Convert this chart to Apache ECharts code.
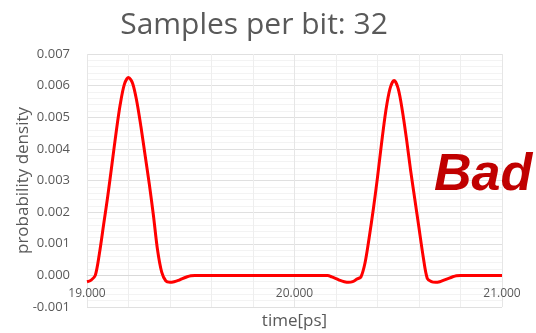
<!DOCTYPE html>
<html>
<head>
<meta charset="utf-8">
<script src="https://cdn.jsdelivr.net/npm/echarts@6/dist/echarts.min.js"></script>
<style>
	html, body { margin: 0; padding: 0; background: #fff; }
	#chart { width: 536px; height: 333px; }
</style>
</head>
<body>
<div id="chart"></div>
<script>
// Samples per bit: 32 - 概率密度曲线
var chartTitle = "Samples per bit: 32";
var xName = "time[ps]";
var yName = "probability density";
var tagText = "Bad";

// 时间点 (ps)
var times = [
	19.00, 19.02, 19.04, 19.06, 19.08, 19.10, 19.12, 19.14, 19.16, 19.18,
	19.20, 19.22, 19.24, 19.26, 19.28, 19.30, 19.32, 19.34, 19.36, 19.38,
	19.40, 19.42, 19.44, 19.46, 19.48, 19.50, 19.52,
	20.16, 20.18, 20.20, 20.22, 20.24, 20.26, 20.28, 20.30, 20.32, 20.34,
	20.36, 20.38, 20.40, 20.42, 20.44, 20.46, 20.48, 20.50, 20.52, 20.54,
	20.56, 20.58, 20.60, 20.62, 20.64, 20.66, 20.68, 20.70, 20.72, 20.74,
	20.76, 20.78, 20.80, 21.00
];
// 概率密度
var density = [
	-0.0002, -0.00015, 0.0000, 0.0007, 0.0016, 0.0025, 0.0035, 0.0045, 0.0054, 0.00604,
	0.00626, 0.00607, 0.0055, 0.0047, 0.0038, 0.0029, 0.0019, 0.0008, 0.0001, -0.00018,
	-0.00022, -0.0002, -0.00016, -0.0001, -0.00005, -0.00001, 0,
	0, -0.00005, -0.0001, -0.00016, -0.0002, -0.00022, -0.0002, -0.00012, -0.00005, 0.0004,
	0.0012, 0.0021, 0.0031, 0.0042, 0.0052, 0.0059, 0.00616, 0.0059, 0.0052, 0.0043,
	0.0033, 0.0024, 0.0015, 0.0006, -0.0001, -0.0002, -0.00022, -0.0002, -0.00015, -0.0001,
	-0.00005, -0.00001, 0, 0
];

var chart = echarts.init(document.getElementById('chart'));

var seriesData = [];
for (var i = 0; i < times.length; i++) {
	seriesData.push([times[i], density[i]]);
}

var option = {
	animation: false,
	backgroundColor: '#fff',
	title: {
		text: chartTitle,
		left: 249,
		top: 5,
		textAlign: 'center',
		textStyle: {
			fontFamily: 'Open Sans',
			fontSize: 30,
			fontWeight: 'normal',
			color: '#595959'
		}
	},
	grid: {
		left: 87,
		right: 34,
		top: 54,
		bottom: 26,
		outerBoundsMode: 'none'
	},
	xAxis: {
		type: 'value',
		min: 19,
		max: 21,
		interval: 1,
		// 轴线放在 y=0 处（onZero 不生效，用 offset 上移）
		offset: -31.6,
		name: xName,
		nameLocation: 'middle',
		nameGap: 37,
		nameMoveOverlap: false,
		nameTextStyle: {
			fontFamily: 'Open Sans',
			fontSize: 17,
			color: '#595959'
		},
		axisLine: {
			onZero: false,
			lineStyle: { color: '#d9d9d9', width: 1 }
		},
		axisTick: { show: false },
		axisLabel: {
			margin: 12,
			fontFamily: 'Open Sans',
			fontSize: 12,
			color: '#595959',
			formatter: function(v) { return v.toFixed(3); }
		},
		splitLine: { lineStyle: { color: '#e6e6e6' } },
		minorTick: { show: false, splitNumber: 5 },
		minorSplitLine: { show: true, lineStyle: { color: '#eeeeee' } }
	},
	yAxis: {
		type: 'value',
		min: -0.001,
		max: 0.007,
		interval: 0.001,
		name: yName,
		nameLocation: 'middle',
		nameGap: 55,
		nameMoveOverlap: false,
		nameTextStyle: {
			fontFamily: 'Open Sans',
			fontSize: 17,
			color: '#595959'
		},
		axisLine: { show: false },
		axisTick: { show: false },
		axisLabel: {
			margin: 17,
			fontFamily: 'Open Sans',
			fontSize: 13,
			color: '#595959',
			formatter: function(v) { return v.toFixed(3); }
		},
		splitLine: { lineStyle: { color: '#e0e0e0' } },
		minorTick: { show: false, splitNumber: 5 },
		minorSplitLine: { show: true, lineStyle: { color: '#f3f3f3' } }
	},
	graphic: [{
		type: 'text',
		left: 434,
		top: 150,
		z: 100,
		style: {
			text: tagText,
			font: 'italic bold 52px "Liberation Sans"',
			fill: '#C00000'
		}
	}],
	series: [{
		name: 'density',
		type: 'line',
		data: seriesData,
		smooth: 0.3,
		showSymbol: false,
		lineStyle: { color: '#ff0000', width: 3 }
	}]
};
chart.setOption(option);
</script>
</body>
</html>
